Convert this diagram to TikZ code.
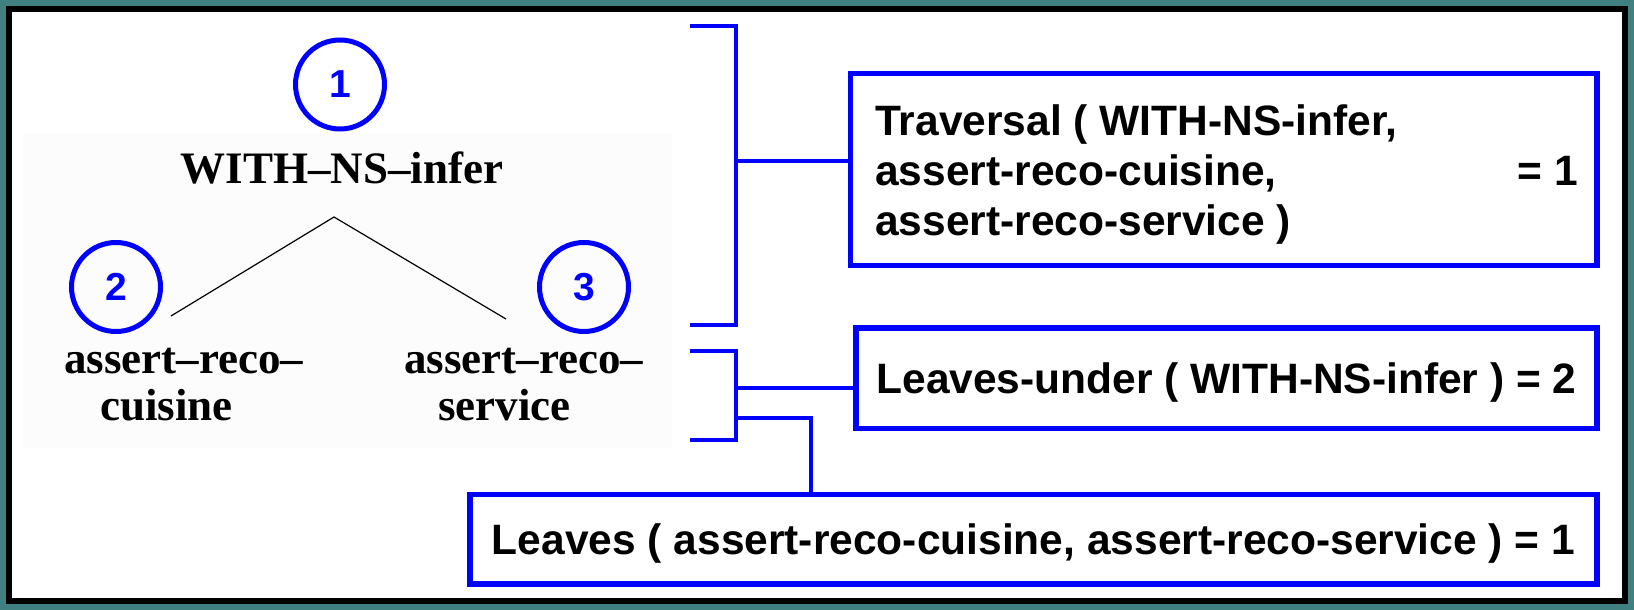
\documentclass[tikz,border=0pt]{standalone}
\usepackage{fontspec}
\newfontfamily\seriff{Liberation Serif}
\newfontfamily\sansf{Liberation Sans}
\definecolor{numblue}{RGB}{0,0,255}
\definecolor{frameteal}{RGB}{64,128,128}
\definecolor{imgbg}{RGB}{252,252,252}
\begin{document}
\begin{tikzpicture}[x=1pt,y=-1pt,
  num/.style={circle,draw=numblue,line width=5pt,minimum size=89pt,inner sep=0pt,text=numblue,
    font=\sansf\bfseries\fontsize{39}{39}\selectfont},
  treetext/.style={font=\seriff\bfseries\fontsize{45}{47}\selectfont,inner sep=0pt},
  boxtext/.style={font=\sansf\bfseries\fontsize{42.5}{50}\selectfont,inner sep=0pt},
  resbox/.style={boxtext,draw=numblue,line width=5.5pt,text height=30pt,text depth=0pt},
  brk/.style={draw=numblue,line width=4pt},
  treeline/.style={draw=black,line width=1.2pt},
]
\path[use as bounding box, fill=frameteal] (0,0) rectangle (1634,610);
\draw[line width=6pt, fill=white] (9,9) rectangle (1625,601);
\fill[imgbg] (23,133) rectangle (672,448);

% tree
\node[num] (c1) at (340,84.5) {1};
\node[num] (c2) at (116,287) {2};
\node[num] (c3) at (584,287) {3};
\node[treetext, anchor=base] (root) at (342,183) {WITH–NS–infer};
\node[treetext, anchor=base west, align=left] (lc) at (64,420) {assert–reco–\\\hspace*{36pt}cuisine};
\node[treetext, anchor=base west, align=left] (rc) at (404,420) {assert–reco–\\\hspace*{34pt}service};
\coordinate (apex) at (334,217);
\coordinate (lend) at (171,316);
\coordinate (rend) at (506,319);
\draw[treeline] (lend) -- (apex) -- (rend);

% boxes
\node[resbox, minimum width=746.5pt, minimum height=192pt] (trav) at (1223.75,169.5) {};
\node[boxtext, anchor=base west, align=left] (travtxt) at (875,235)
  {Traversal ( WITH-NS-infer,\\assert-reco-cuisine,\\assert-reco-service )};
\node[boxtext, anchor=base east] (traveq) at (1578,185) {= 1};
\node[resbox, minimum width=741pt, minimum height=100.5pt] (under) at (1226.5,378)
  {Leaves-under ( WITH-NS-infer ) = 2};
\node[resbox, minimum width=1127pt, minimum height=89.5pt] (leaves) at (1033.5,539)
  {Leaves ( assert-reco-cuisine, assert-reco-service ) = 1};

% brackets
\draw[brk] (690,26) -- (735.5,26) -- (735.5,325) -- (690,325);
\coordinate (b1) at (735.5,161);
\draw[brk] (b1) -- (b1 -| trav.west);
\draw[brk] (690,351) -- (735.5,351) -- (735.5,439.5) -- (690,439.5);
\coordinate (b2) at (735.5,387.5);
\draw[brk] (b2) -- (b2 -| under.west);
\coordinate (b3) at (735.5,417.5);
\coordinate (b3k) at (811,417.5);
\draw[brk] (b3) -- (b3k) -- (b3k |- leaves.north);
\end{tikzpicture}
\end{document}
